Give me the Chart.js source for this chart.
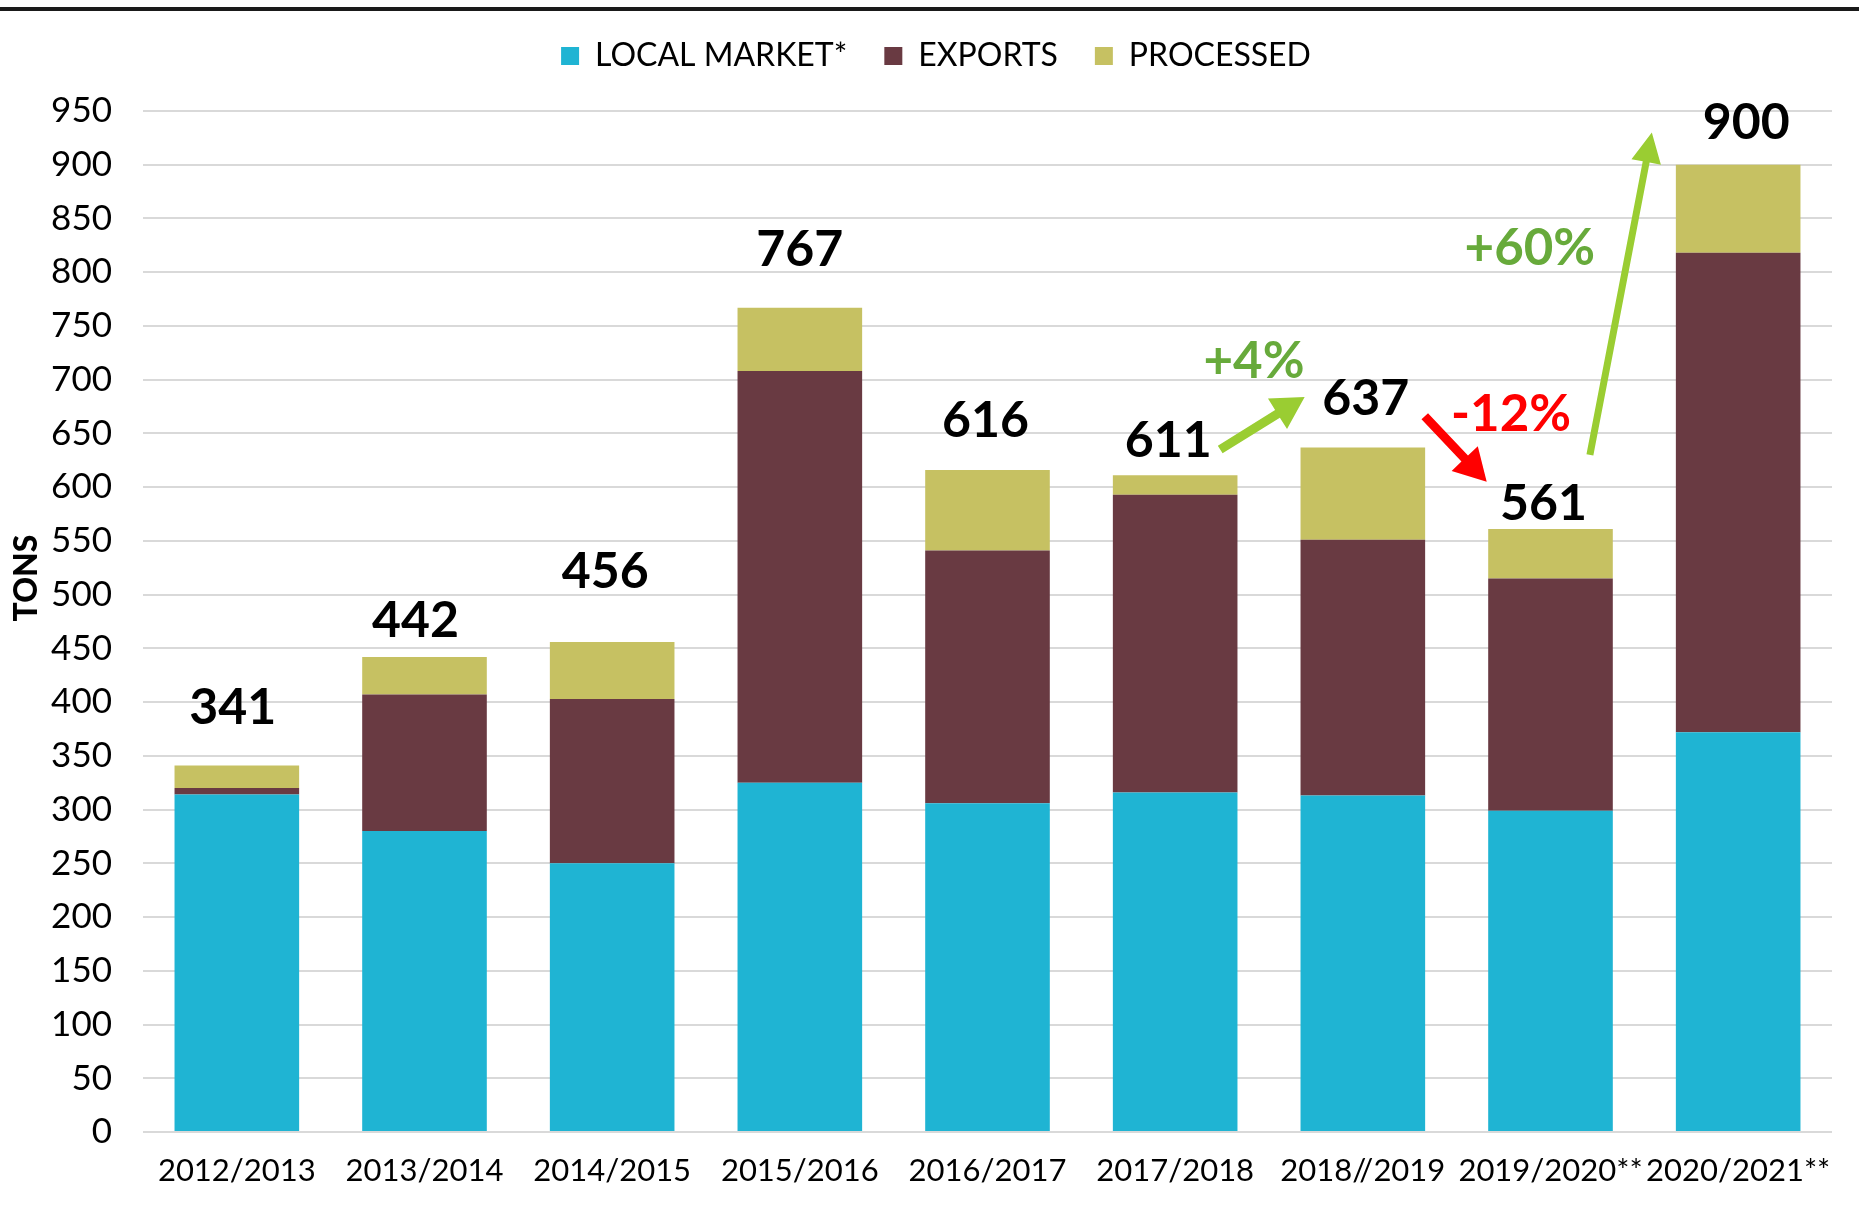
<!DOCTYPE html>
<html>
<head>
<meta charset="utf-8">
<script src="https://cdn.jsdelivr.net/npm/chart.js@4.4.1/dist/chart.umd.min.js"></script>
<style>
  html, body { margin: 0; padding: 0; background: #fff; }
</style>
</head>
<body>
<canvas id="myChart" width="1859" height="1211"></canvas>
<script>
// data
const seasons = ['2012/2013', '2013/2014', '2014/2015', '2015/2016', '2016/2017', '2017/2018', '2018//2019', '2019/2020**', '2020/2021**'];
const localMarket = [314, 280, 250, 325, 306, 316, 313, 299, 372];
const exportsTons = [6, 127, 153, 383, 235, 277, 238, 216, 446];
const processed = [21, 35, 53, 59, 75, 18, 86, 46, 82];
const totals = [341, 442, 456, 767, 616, 611, 637, 561, 900];

// label placement (pixels above the bar top / sideways nudge)
const labelLift = [58, 36, 70, 58, 49, 34, 49, 25, 42];
const labelShift = [-4, -9, -7, 0, -2, -7, 3, -7, 8];

// change arrows, in (category position, tons)
const changes = [
  { text: '+4%', color: '#67AA3B', arrow: '#9ACD32', from: [5.24, 635], to: [5.69, 684], at: [5.42, 717], shaft: 9, headLen: 32, headW: 36 },
  { text: '-12%', color: '#FF0000', arrow: '#FF0000', from: [6.33, 666], to: [6.66, 605], at: [6.79, 668], shaft: 9, headLen: 32, headW: 36 },
  { text: '+60%', color: '#67AA3B', arrow: '#9ACD32', from: [7.21, 630], to: [7.54, 930], at: [6.89, 822], shaft: 7, headLen: 30, headW: 30 }
];

const FONT = 'Lato, "Open Sans", sans-serif';

function drawArrow(ctx, x1, y1, x2, y2, w, hl, hw) {
  const ang = Math.atan2(y2 - y1, x2 - x1);
  const len = Math.hypot(x2 - x1, y2 - y1);
  ctx.save();
  ctx.translate(x1, y1);
  ctx.rotate(ang);
  ctx.beginPath();
  ctx.moveTo(0, -w / 2);
  ctx.lineTo(len - hl, -w / 2);
  ctx.lineTo(len - hl, -hw / 2);
  ctx.lineTo(len, 0);
  ctx.lineTo(len - hl, hw / 2);
  ctx.lineTo(len - hl, w / 2);
  ctx.lineTo(0, w / 2);
  ctx.closePath();
  ctx.fill();
  ctx.restore();
}

const extras = {
  id: 'extras',
  beforeInit(chart) {
    const fit = chart.legend.fit;
    chart.legend.fit = function () {
      fit.bind(chart.legend)();
      this.height = 111;
    };
  },
  afterLayout(chart) {
    // nudge the legend a little right and down
    chart.legend.left += 20;
    chart.legend.right += 20;
    chart.legend.top += 3;
  },
  afterDraw(chart) {
    const ctx = chart.ctx;
    const xs = chart.scales.x, ys = chart.scales.y;
    const catW = (chart.chartArea.right - chart.chartArea.left) / seasons.length;
    const px = p => chart.chartArea.left + (p + 0.5) * catW;

    ctx.save();
    // top rule
    ctx.fillStyle = '#1a1a1a';
    ctx.fillRect(0, 7, chart.width, 4);

    // axis title
    ctx.save();
    ctx.translate(27, 578);
    ctx.rotate(-Math.PI / 2);
    ctx.font = '900 32px ' + FONT;
    ctx.fillStyle = '#000';
    ctx.textAlign = 'center';
    ctx.textBaseline = 'middle';
    ctx.fillText('TONS', 0, 0);
    ctx.restore();

    // totals
    ctx.font = 'bold 50px ' + FONT;
    ctx.fillStyle = '#000';
    ctx.textAlign = 'center';
    ctx.textBaseline = 'middle';
    totals.forEach((t, i) => {
      ctx.fillText(String(t), xs.getPixelForValue(i) + labelShift[i], ys.getPixelForValue(t) - labelLift[i]);
    });

    // arrows and percentages
    changes.forEach(c => {
      ctx.fillStyle = c.arrow;
      drawArrow(ctx, px(c.from[0]), ys.getPixelForValue(c.from[1]), px(c.to[0]), ys.getPixelForValue(c.to[1]), c.shaft, c.headLen, c.headW);
      ctx.fillStyle = c.color;
      ctx.font = 'bold 51px ' + FONT;
      ctx.fillText(c.text, px(c.at[0]), ys.getPixelForValue(c.at[1]));
    });
    ctx.restore();
  }
};

new Chart(document.getElementById('myChart'), {
  type: 'bar',
  data: {
    labels: seasons,
    datasets: [
      { label: 'LOCAL MARKET*', data: localMarket, backgroundColor: '#1FB4D3' },
      { label: 'EXPORTS', data: exportsTons, backgroundColor: '#693A42' },
      { label: 'PROCESSED', data: processed, backgroundColor: '#C6C162' }
    ]
  },
  options: {
    responsive: false,
    devicePixelRatio: 1,
    animation: false,
    datasets: { bar: { barPercentage: 0.664, categoryPercentage: 1 } },
    layout: { padding: { top: 0, right: 27, bottom: 0, left: 0 } },
    plugins: {
      legend: {
        position: 'top',
        labels: {
          boxWidth: 18,
          boxHeight: 18,
          padding: 37,
          color: '#000',
          font: { family: FONT, size: 32 }
        }
      },
      tooltip: { enabled: false }
    },
    scales: {
      x: {
        stacked: true,
        grid: { display: false },
        border: { display: false },
        ticks: { color: '#000', font: { family: FONT, size: 31 }, padding: 12, maxRotation: 0, autoSkip: false },
        afterFit(scale) { scale.height = 79; }
      },
      y: {
        stacked: true,
        min: 0,
        max: 950,
        border: { display: false },
        grid: { color: '#D9D9D9', lineWidth: 2, drawTicks: false },
        ticks: { stepSize: 50, color: '#000', font: { family: FONT, size: 35 }, padding: 31 },
        afterFit(scale) { scale.width = 143; }
      }
    }
  },
  plugins: [extras]
});
</script>
</body>
</html>
